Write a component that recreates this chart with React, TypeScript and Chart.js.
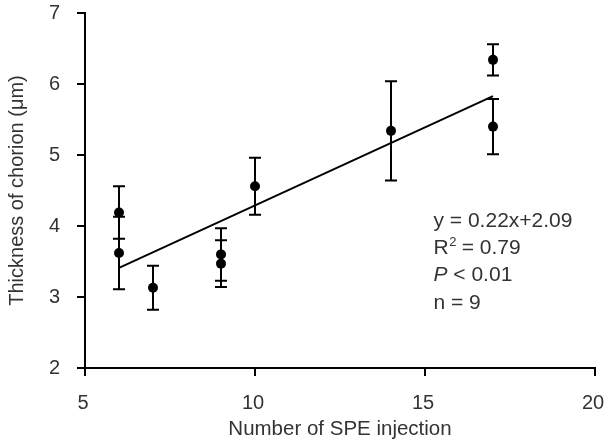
import React, { useEffect, useRef } from "react";
import { Chart, registerables } from "chart.js";

Chart.register(...registerables);

// ---- Data ----
const injections = [6, 6, 7, 9, 9, 10, 14, 17, 17];
const thickness = [4.19, 3.62, 3.13, 3.6, 3.47, 4.56, 5.34, 6.34, 5.4];
const errors = [0.37, 0.51, 0.31, 0.37, 0.33, 0.4, 0.7, 0.22, 0.39];
const fitX = [6, 17];
const fitY = [3.41, 5.83];
const xTicks = [5, 10, 15, 20];
const yTicks = [2, 3, 4, 5, 6, 7];
const xTitle = "Number of SPE injection";
const yTitle = "Thickness of chorion (μm)";
const eqText = "y = 0.22x+2.09";
const r2Text = ["R", "2", " = 0.79"];
const pText = ["P", " < 0.01"];
const nText = "n = 9";
const annotAnchor = { x: 15.25, y: 3.99 };

const FONT = "'Liberation Sans', Arial, Helvetica, sans-serif";
const TEXT = "#333333";

const errorBarPlugin = {
  id: "errorBars",
  afterDatasetsDraw(chart: any) {
    const { ctx, scales } = chart;
    const xs = scales.x;
    const ys = scales.y;
    ctx.save();
    ctx.strokeStyle = "#000";
    ctx.lineWidth = 2;
    const cap = 6;
    injections.forEach((xv, i) => {
      const px = xs.getPixelForValue(xv);
      const top = ys.getPixelForValue(thickness[i] + errors[i]);
      const bot = ys.getPixelForValue(thickness[i] - errors[i]);
      ctx.beginPath();
      ctx.moveTo(px, top);
      ctx.lineTo(px, bot);
      ctx.moveTo(px - cap, top);
      ctx.lineTo(px + cap, top);
      ctx.moveTo(px - cap, bot);
      ctx.lineTo(px + cap, bot);
      ctx.stroke();
    });
    // annotation text
    const ax = xs.getPixelForValue(annotAnchor.x);
    const ay = ys.getPixelForValue(annotAnchor.y);
    const gap = 27.3;
    const fs = 21;
    ctx.fillStyle = TEXT;
    ctx.textBaseline = "alphabetic";
    ctx.textAlign = "left";
    ctx.font = `${fs}px ${FONT}`;
    ctx.fillText(eqText, ax, ay);
    // R^2
    let x = ax;
    ctx.fillText(r2Text[0], x, ay + gap);
    x += ctx.measureText(r2Text[0]).width;
    ctx.font = `13px ${FONT}`;
    ctx.fillText(r2Text[1], x + 0.5, ay + gap - 8);
    x += ctx.measureText(r2Text[1]).width;
    ctx.font = `${fs}px ${FONT}`;
    ctx.fillText(r2Text[2], x, ay + gap);
    // P
    x = ax;
    ctx.font = `italic ${fs}px ${FONT}`;
    ctx.fillText(pText[0], x, ay + gap * 2);
    x += ctx.measureText(pText[0]).width;
    ctx.font = `${fs}px ${FONT}`;
    ctx.fillText(pText[1], x, ay + gap * 2);
    // n
    ctx.fillText(nText, ax, ay + gap * 3);
    ctx.restore();
  },
};

export default function App() {
  const ref = useRef<HTMLCanvasElement>(null);
  useEffect(() => {
    if (!ref.current) return;
    const chart = new Chart(ref.current, {
      type: "scatter",
      data: {
        datasets: [
          {
            type: "line",
            data: fitX.map((x, i) => ({ x, y: fitY[i] })),
            borderColor: "#000",
            borderWidth: 2,
            pointRadius: 0,
            fill: false,
            order: 2,
          } as any,
          {
            type: "scatter",
            data: injections.map((x, i) => ({ x, y: thickness[i] })),
            backgroundColor: "#000",
            borderColor: "#000",
            pointRadius: 5,
            pointBorderWidth: 0,
            order: 1,
          },
        ],
      },
      options: {
        responsive: false,
        animation: false,
        layout: { padding: { top: 13, right: 10, left: 0, bottom: 0 } },
        plugins: {
          legend: { display: false },
          tooltip: { enabled: false },
        },
        scales: {
          x: {
            type: "linear",
            min: 5,
            max: 20,
            afterBuildTicks: (s: any) => {
              s.ticks = xTicks.map((v) => ({ value: v }));
            },
            afterFit: (s: any) => {
              s.height = 79;
              s.paddingLeft = 0;
              s.paddingRight = 0;
            },
            grid: {
              drawOnChartArea: false,
              drawTicks: true,
              tickLength: 8,
              color: "#000",
              lineWidth: 2,
            },
            border: { display: true, color: "#000", width: 2 },
            ticks: {
              color: TEXT,
              font: { family: FONT, size: 20 },
              padding: 15,
              maxRotation: 0,
              labelOffset: -2,
            },
            title: {
              display: true,
              text: xTitle,
              color: TEXT,
              font: { family: FONT, size: 20.5 },
              padding: { top: 0, bottom: 5 },
            },
          },
          y: {
            type: "linear",
            min: 2,
            max: 7,
            afterBuildTicks: (s: any) => {
              s.ticks = yTicks.map((v) => ({ value: v }));
            },
            afterFit: (s: any) => {
              s.width = 85;
              s.paddingTop = 0;
              s.paddingBottom = 0;
            },
            grid: {
              drawOnChartArea: false,
              drawTicks: true,
              tickLength: 8,
              color: "#000",
              lineWidth: 2,
            },
            border: { display: true, color: "#000", width: 2 },
            ticks: {
              color: TEXT,
              font: { family: FONT, size: 20 },
              padding: 17,
            },
            title: {
              display: true,
              text: yTitle,
              color: TEXT,
              font: { family: FONT, size: 20 },
              padding: { top: 5, bottom: 0 },
            },
          },
        },
      },
      plugins: [errorBarPlugin],
    });
    return () => chart.destroy();
  }, []);
  return (
    <div style={{ position: "fixed", left: 0, top: 0, width: 605, height: 447, background: "#fff" }}>
      <canvas ref={ref} width={605} height={447} />
    </div>
  );
}
